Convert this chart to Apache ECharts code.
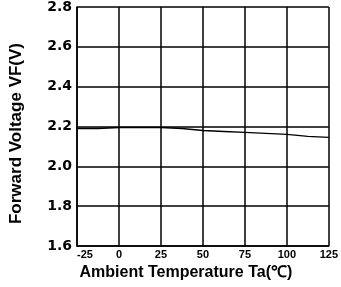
<!DOCTYPE html>
<html>
<head>
<meta charset="utf-8">
<script src="https://cdn.jsdelivr.net/npm/echarts@6/dist/echarts.min.js"></script>
<style>
html, body { margin: 0; padding: 0; background: #fff; }
#chart { width: 341px; height: 287px; }
</style>
</head>
<body>
<div id="chart"></div>
<script>
// ambient temperature (°C) and forward voltage (V)
const temps = [-25, -12.5, 0, 12.5, 25, 37.5, 50, 62.5, 75, 87.5, 100, 112.5, 125]
const vf = [2.19, 2.19, 2.195, 2.195, 2.195, 2.19, 2.18, 2.175, 2.17, 2.165, 2.16, 2.15, 2.145]
const xTicks = [-25, 0, 25, 50, 75, 100, 125]
const yTicks = [1.6, 1.8, 2.0, 2.2, 2.4, 2.6, 2.8]

const chart = echarts.init(document.getElementById('chart'))

const font = 'Liberation Sans, Arial, sans-serif'
const lineStyle = { color: '#000', width: 1.5 }

chart.setOption({
    animation: false,
    grid: { left: 76, right: 12, top: 7, bottom: 41 },
    xAxis: {
        type: 'value',
        min: -25,
        max: 125,
        interval: 25,
        name: 'Ambient Temperature Ta(℃)',
        nameLocation: 'middle',
        nameGap: 18,
        nameTextStyle: { fontFamily: font, fontWeight: 'bold', fontSize: 16, color: '#000', padding: [0, 34, 0, 0] },
        axisLine: { onZero: false, lineStyle: lineStyle },
        axisTick: { show: false },
        splitLine: { lineStyle: lineStyle },
        axisLabel: {
            fontFamily: font, fontWeight: 'bold', fontSize: 11, color: '#000', margin: 3,
            alignMinLabel: 'left',
            formatter: v => xTicks.includes(v) ? String(v) : ''
        }
    },
    yAxis: {
        type: 'value',
        min: 1.6,
        max: 2.8,
        interval: 0.2,
        name: 'Forward Voltage VF(V)',
        nameLocation: 'middle',
        nameGap: 52,
        nameTextStyle: { fontFamily: font, fontWeight: 'bold', fontSize: 17, color: '#000', padding: [0, 14, 0, 0] },
        axisLine: { onZero: false, lineStyle: lineStyle },
        axisTick: { show: false },
        splitLine: { lineStyle: lineStyle },
        axisLabel: {
            fontFamily: 'DejaVu Sans, sans-serif', fontWeight: 'bold', fontSize: 14, color: '#000', margin: 5,
            formatter: v => {
                const t = yTicks.find(k => Math.abs(k - v) < 1e-6)
                return t === undefined ? '' : t.toFixed(1)
            }
        }
    },
    series: [{
        type: 'line',
        data: temps.map((t, i) => [t, vf[i]]),
        showSymbol: false,
        lineStyle: { color: '#000', width: 1.3 }
    }]
})
</script>
</body>
</html>
